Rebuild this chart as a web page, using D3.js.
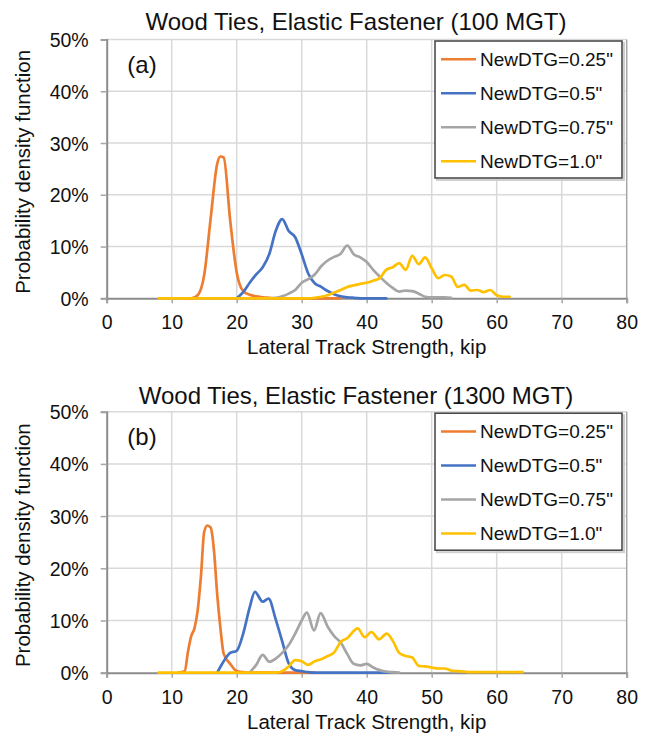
<!DOCTYPE html>
<html>
<head>
<meta charset="utf-8">
<script src="https://cdn.jsdelivr.net/npm/d3@7"></script>
<style>
  html, body { margin: 0; padding: 0; background: #ffffff; }
  svg { display: block; }
  text { font-family: "Liberation Sans", Arial, sans-serif; fill: #111; }
</style>
</head>
<body>
<svg id="chart" width="651" height="734"></svg>
<script>
// ---------- data ----------
const xTicks = [0, 10, 20, 30, 40, 50, 60, 70, 80];
const yTicks = [0, 10, 20, 30, 40, 50];
const seriesNames = ['NewDTG=0.25"', 'NewDTG=0.5"', 'NewDTG=0.75"', 'NewDTG=1.0"'];
const panelTitles = ["Wood Ties, Elastic Fastener (100 MGT)", "Wood Ties, Elastic Fastener (1300 MGT)"];
const panelLabels = ["(a)", "(b)"];
const xTitle = "Lateral Track Strength, kip";
const yTitle = "Probability density function";

// Panel (a) 100 MGT  (x = kip, y = %)
const a025x = [12, 13, 14, 15, 16, 17, 17.5, 18, 19, 20, 21, 22, 23, 24, 25, 26, 28, 30, 32, 34, 36];
const a025y = [0, 0, 0.6, 4.5, 15.5, 26, 27.4, 27.2, 15, 5, 1.4, 0.7, 0.4, 0.2, 0.1, 0, 0, 0, 0, 0, 0];
const a050x = [20, 21, 22, 23, 24, 25, 26, 27, 28, 29, 30, 31, 32, 33, 34, 35, 36, 37, 38, 40, 43];
const a050y = [0, 1.2, 3, 4.6, 6, 8.5, 13, 15.3, 13, 11.8, 8.5, 4.8, 2.9, 2.2, 1.4, 0.8, 0.4, 0.2, 0.1, 0, 0];
const a075x = [25, 26, 27, 28, 29, 30, 31, 32, 33, 34, 35, 36, 37, 38, 39, 40, 41, 42, 43, 44, 45, 46, 47, 48, 49, 50, 51, 52, 53];
const a075y = [0, 0.1, 0.4, 0.9, 1.6, 3, 3.7, 4.6, 6.2, 7.3, 8, 8.6, 10.2, 8.5, 7.9, 7, 5.5, 4.2, 3, 2, 1.3, 1.5, 1.4, 0.9, 0.3, 0.2, 0.2, 0.2, 0.1];
const a100x = [8, 10, 15, 20, 25, 30, 31, 32, 33, 34, 35, 36, 37, 38, 39, 40, 41, 42, 43, 44, 45, 46, 47, 48, 49, 50, 51, 52, 53, 54, 55, 56, 57, 58, 59, 60, 61, 62];
const a100y = [0, 0, 0, 0, 0, 0, 0, 0.1, 0.3, 0.6, 1.1, 1.6, 2.2, 2.5, 2.8, 3, 3.4, 3.9, 5.5, 6, 6.8, 5.5, 8.2, 6.6, 7.9, 5.8, 3.9, 4.5, 4.2, 2.2, 2.6, 1.5, 1.6, 1.2, 1.6, 0.6, 0.3, 0.3];

// Panel (b) 1300 MGT
const b025x = [11, 12, 12.5, 13, 13.5, 14, 14.5, 15, 15.5, 16, 16.5, 17, 17.5, 18, 19, 20, 21, 22, 24, 26, 28, 30, 32];
const b025y = [0, 0.3, 4, 7, 8.5, 12, 18.5, 27, 28.2, 27.8, 23.5, 15, 8.5, 3.6, 1.7, 0.3, 0.1, 0, 0, 0, 0, 0, 0];
const b050x = [17, 18, 19, 20, 21, 22, 22.8, 24, 24.9, 26, 27, 28, 29, 30, 31, 32, 34, 36, 38, 40, 43.5];
const b050y = [0, 2.2, 3.8, 4.2, 7.5, 12.5, 15.5, 13.6, 14.2, 10.2, 6, 1.8, 0.5, 0.3, 0.1, 0, 0, 0, 0, 0, 0];
const b075x = [22, 23, 24, 25, 26, 27, 28, 29, 30, 30.8, 31.9, 32.9, 34, 35, 36, 37, 38, 39, 40, 41, 42, 43, 44, 45];
const b075y = [0, 1.5, 3.4, 2.1, 2.7, 3.8, 5.3, 7.5, 10, 11.5, 8.1, 11.4, 8.8, 7, 5.8, 3.6, 1.7, 1.4, 1.7, 1.0, 0.5, 0.2, 0.1, 0];
const b100x = [8, 10, 15, 20, 26, 27, 28, 29, 30, 31, 32, 33, 34, 35, 36, 37, 38.6, 39.7, 40.7, 41.9, 43.1, 44.1, 45, 46, 47, 48, 49, 50, 51, 52, 53, 54, 55, 56, 58, 60, 62, 64];
const b100y = [0, 0, 0, 0, 0, 0.3, 1.2, 2.4, 2.2, 1.5, 2.2, 2.6, 3.2, 3.9, 5.9, 6.6, 8.5, 6.8, 7.8, 6.4, 7.5, 5.9, 3.8, 3.2, 2.9, 1.3, 1.2, 1.0, 0.8, 0.8, 0.4, 0.3, 0.2, 0.1, 0.1, 0.1, 0.1, 0.1];

// ---------- styles ----------
const colors = ["#ED7D31", "#4472C4", "#A5A5A5", "#FFC000"];

const panels = [
  { xs: [a025x, a050x, a075x, a100x], ys: [a025y, a050y, a075y, a100y], top: 39.5, bottom: 298.3, titleY: 30 },
  { xs: [b025x, b050x, b075x, b100x], ys: [b025y, b050y, b075y, b100y], top: 411.7, bottom: 672.7, titleY: 404 }
];

const svg = d3.select("#chart");
const left = 106.7, right = 626.7;

panels.forEach((p, pi) => {
  const x = d3.scaleLinear().domain([0, 80]).range([left, right]);
  const y = d3.scaleLinear().domain([0, 50]).range([p.bottom, p.top]);
  const g = svg.append("g");

  // gridlines
  g.append("g").selectAll("line.hg").data(yTicks.filter(d => d > 0)).join("line")
    .attr("x1", left).attr("x2", right).attr("y1", d => y(d)).attr("y2", d => y(d))
    .attr("stroke", "#d9d9d9").attr("stroke-width", 1.5);
  g.append("g").selectAll("line.vg").data(xTicks.filter(d => d > 0 && d < 80)).join("line")
    .attr("x1", d => x(d)).attr("x2", d => x(d)).attr("y1", p.top).attr("y2", p.bottom)
    .attr("stroke", "#d9d9d9").attr("stroke-width", 1.5);
  // right border
  g.append("line").attr("x1", x(80)).attr("x2", x(80)).attr("y1", p.top).attr("y2", p.bottom)
    .attr("stroke", "#a6a6a6").attr("stroke-width", 1.5);

  // axes
  const xAxis = d3.axisBottom(x).tickValues(xTicks).tickSize(5).tickPadding(12).tickFormat(d3.format("d"));
  const yAxis = d3.axisLeft(y).tickValues(yTicks).tickSize(6).tickPadding(12).tickFormat(d => d + "%");
  const gx = g.append("g").attr("transform", `translate(0,${p.bottom})`).call(xAxis);
  const gy = g.append("g").attr("transform", `translate(${left},0)`).call(yAxis);
  [gx, gy].forEach(a => {
    a.select(".domain").attr("stroke", "#8c8c8c").attr("stroke-width", 2);
    a.selectAll(".tick line").attr("stroke", "#a6a6a6").attr("stroke-width", 1.5);
    a.selectAll(".tick text").attr("font-size", 19.5).attr("fill", "#111")
      .style("font-family", '"Liberation Sans", Arial, sans-serif');
  });
  gy.selectAll(".tick text").attr("dy", "0.36em");

  // clip
  const clipId = "clip" + pi;
  svg.append("clipPath").attr("id", clipId).append("rect")
    .attr("x", left).attr("y", p.top - 2).attr("width", right - left).attr("height", p.bottom - p.top + 4);

  const line = d3.line().x(d => x(d[0])).y(d => y(Math.max(0, d[1]))).curve(d3.curveMonotoneX);
  const gl = g.append("g").attr("clip-path", `url(#${clipId})`);
  p.xs.forEach((xs, si) => {
    const pts = xs.map((v, i) => [v, p.ys[si][i]]);
    gl.append("path").datum(pts).attr("d", line)
      .attr("fill", "none").attr("stroke", colors[si]).attr("stroke-width", 2.7)
      .attr("stroke-linejoin", "round").attr("stroke-linecap", "round");
  });

  // titles
  svg.append("text").attr("x", 356).attr("y", p.titleY).attr("text-anchor", "middle")
    .attr("font-size", 24).text(panelTitles[pi]);
  svg.append("text").attr("x", (left + right) / 2 + 0).attr("y", p.bottom + 56).attr("text-anchor", "middle")
    .attr("font-size", 20.5).text(xTitle);
  svg.append("text").attr("transform", `translate(30,${(p.top + p.bottom) / 2 + 3}) rotate(-90)`)
    .attr("text-anchor", "middle").attr("font-size", 20.5).text(yTitle);
  svg.append("text").attr("x", 142).attr("y", p.top + 33).attr("text-anchor", "middle")
    .attr("font-size", 24).text(panelLabels[pi]);

  // legend
  const lg = svg.append("g").attr("transform", `translate(435,${p.top + 1.5})`);
  lg.append("rect").attr("x", 2).attr("y", 2).attr("width", 187).attr("height", 137)
    .attr("fill", "none").attr("stroke", "#cfcfcf").attr("stroke-width", 2);
  lg.append("rect").attr("x", 0).attr("y", 0).attr("width", 187).attr("height", 137)
    .attr("fill", "#fff").attr("stroke", "#404040").attr("stroke-width", 1.5);
  seriesNames.forEach((name, i) => {
    const cy = 18.3 + i * 34;
    lg.append("line").attr("x1", 6).attr("x2", 41).attr("y1", cy).attr("y2", cy)
      .attr("stroke", colors[i]).attr("stroke-width", 2.6);
    lg.append("text").attr("x", 45).attr("y", cy + 6.8).attr("font-size", 19).text(name);
  });
});
</script>
</body>
</html>
